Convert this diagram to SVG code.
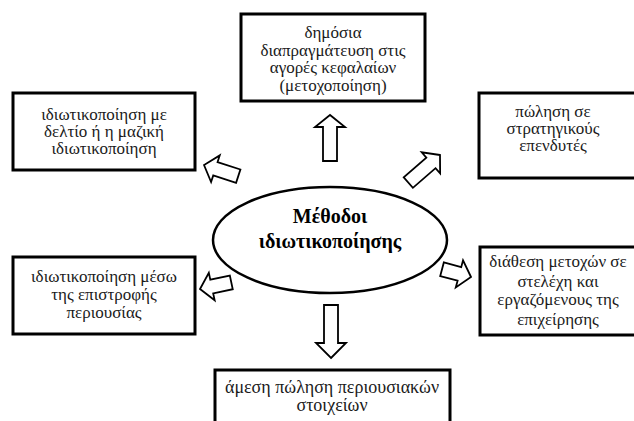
<svg xmlns="http://www.w3.org/2000/svg" width="634" height="421" viewBox="0 0 634 421">
<style>
.box{fill:#fff;stroke:#000;stroke-width:3}
.t{font-family:"Liberation Serif","Times New Roman",serif;font-size:17px;fill:#1a1a1a;text-anchor:middle}
.tb{font-size:18px}
.title{font-family:"Liberation Serif","Times New Roman",serif;font-size:20px;font-weight:bold;fill:#000;text-anchor:middle}
.arr{fill:#fff;stroke:#000;stroke-width:1.8;stroke-linejoin:miter}
</style>
<rect width="634" height="421" fill="#fff"/>
<g id="top">
<rect class="box" x="241" y="14" width="184" height="87"/>
<text class="t" x="333" y="38">δημόσια</text>
<text class="t" x="333" y="56">διαπραγμάτευση στις</text>
<text class="t" x="333" y="73">αγορές κεφαλαίων</text>
<text class="t" x="333" y="91">(μετοχοποίηση)</text>
</g>
<g id="topleft">
<rect class="box" x="13" y="93" width="182" height="77"/>
<text class="t" x="104" y="120">ιδιωτικοποίηση με</text>
<text class="t" x="104" y="137">δελτίο ή η μαζική</text>
<text class="t" x="104" y="154">ιδιωτικοποίηση</text>
</g>
<g id="topright">
<rect class="box" x="479" y="93" width="170" height="85"/>
<text class="t" x="553" y="117">πώληση σε</text>
<text class="t" x="553" y="134">στρατηγικούς</text>
<text class="t" x="553" y="151">επενδυτές</text>
</g>
<g id="bottomleft">
<rect class="box" x="13" y="257" width="182" height="77"/>
<text class="t" x="104" y="282">ιδιωτικοποίηση μέσω</text>
<text class="t" x="104" y="300">της επιστροφής</text>
<text class="t" x="104" y="318">περιουσίας</text>
</g>
<g id="bottomright">
<rect class="box" x="480" y="247" width="170" height="88"/>
<text class="t" x="558" y="267">διάθεση μετοχών σε</text>
<text class="t" x="558" y="287">στελέχη και</text>
<text class="t" x="558" y="305">εργαζόμενους της</text>
<text class="t" x="558" y="325">επιχείρησης</text>
</g>
<g id="bottom">
<rect class="box" x="215" y="370" width="235" height="60"/>
<text class="t tb" x="332" y="393">άμεση πώληση περιουσιακών</text>
<text class="t tb" x="332" y="411">στοιχείων</text>
</g>
<g id="center">
<ellipse cx="330" cy="240" rx="117" ry="53" fill="#fff" stroke="#000" stroke-width="2.5"/>
<text class="title" x="330" y="223">Μέθοδοι</text>
<text class="title" x="330" y="248">ιδιωτικοποίησης</text>
</g>
<g id="connectors">
<path class="arr" d="M0,0 L-12,-15 L-12,-7 L-46,-7 L-46,7 L-12,7 L-12,15 Z" transform="translate(330,115) rotate(-90)"/>
<path class="arr" d="M0,0 L-15,-15 L-15,-7 L-53,-7 L-53,7 L-15,7 L-15,15 Z" transform="translate(331,358) rotate(90)"/>
<path class="arr" d="M0,0 L-12,-14 L-12,-7 L-36,-7 L-36,7 L-12,7 L-12,14 Z" transform="translate(204,165) rotate(198)"/>
<path class="arr" d="M0,0 L-12,-14 L-12,-7 L-42,-7 L-42,7 L-12,7 L-12,14 Z" transform="translate(440,155) rotate(-41)"/>
<path class="arr" d="M0,0 L-12,-14 L-12,-7 L-32,-7 L-32,7 L-12,7 L-12,14 Z" transform="translate(200,289) rotate(168)"/>
<path class="arr" d="M0,0 L-12,-14 L-12,-7 L-30,-7 L-30,7 L-12,7 L-12,14 Z" transform="translate(471,277) rotate(15)"/>
</g>
</svg>
